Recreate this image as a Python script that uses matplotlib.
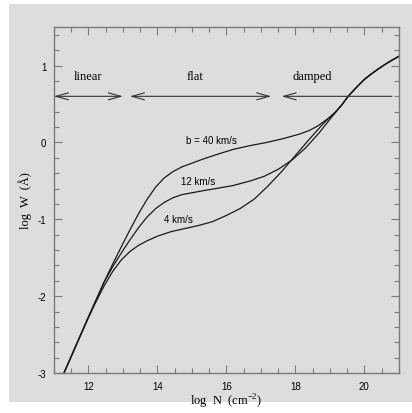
import numpy as np
import matplotlib
matplotlib.use("Agg")
import matplotlib.pyplot as plt
from matplotlib.patches import Rectangle
from matplotlib.ticker import MultipleLocator

plt.rcParams['axes.unicode_minus'] = False
plt.rcParams['mathtext.fontset'] = 'custom'
plt.rcParams['mathtext.rm'] = 'Liberation Serif'

# curve of growth
logN_40 = [11.29, 11.97, 12.45, 12.7, 12.95, 13.2, 13.45, 13.7, 13.95, 14.2, 14.45, 14.7,
           15.0, 15.3, 15.7, 16.2, 16.7, 17.17, 17.65, 18.13, 18.4, 18.65, 18.9, 19.15,
           19.35, 19.53, 19.8, 20.0, 20.2, 20.4, 20.6, 20.8, 21.0]
logW_40 = [-3.0, -2.30, -1.82, -1.585, -1.36, -1.14, -0.93, -0.74, -0.58, -0.46, -0.38, -0.32,
           -0.27, -0.22, -0.16, -0.09, -0.04, 0.0, 0.05, 0.11, 0.155, 0.215, 0.295, 0.385,
           0.49, 0.60, 0.73, 0.82, 0.89, 0.955, 1.015, 1.07, 1.12]

logN_12 = [11.29, 11.97, 12.45, 12.7, 12.95, 13.2, 13.45, 13.7, 13.95, 14.2, 14.45, 14.7,
           15.0, 15.3, 15.7, 16.2, 16.7, 17.1, 17.5, 17.9, 18.3, 18.7, 19.0, 19.2,
           19.35, 19.53, 19.8, 20.0, 20.2, 20.4, 20.6, 20.8, 21.0]
logW_12 = [-3.0, -2.30, -1.82, -1.62, -1.44, -1.27, -1.11, -0.97, -0.86, -0.78, -0.72, -0.68,
           -0.655, -0.63, -0.60, -0.56, -0.50, -0.44, -0.35, -0.23, -0.07, 0.13, 0.30, 0.41,
           0.49, 0.60, 0.73, 0.82, 0.89, 0.955, 1.015, 1.07, 1.12]

logN_4 = [11.29, 11.97, 12.2, 12.45, 12.7, 12.95, 13.2, 13.45, 13.7, 14.0, 14.4, 14.8,
          15.2, 15.6, 16.0, 16.4, 16.8, 17.2, 17.6, 18.0, 18.4, 18.8, 19.2,
          19.35, 19.53, 19.8, 20.0, 20.2, 20.4, 20.6, 20.8, 21.0]
logW_4 = [-3.0, -2.31, -2.09, -1.87, -1.68, -1.53, -1.42, -1.34, -1.28, -1.22, -1.16, -1.12,
          -1.08, -1.03, -0.95, -0.86, -0.74, -0.57, -0.38, -0.17, 0.04, 0.24, 0.415,
          0.49, 0.60, 0.73, 0.82, 0.89, 0.955, 1.015, 1.07, 1.12]

curve_labels = ["b = 40 km/s", "12 km/s", "4 km/s"]
label_pos = [(15.57, 0.03), (15.17, -0.50), (14.62, -0.99)]

regimes = ["linear", "flat", "damped"]
regime_x = [12.0, 15.1, 18.5]
regime_span = [(11.0, 13.0), (13.2, 17.3), (17.6, 20.8)]
arrow_y = 0.6

fig = plt.figure(figsize=(4.12, 4.14), dpi=100)
fig.patches.append(Rectangle((0.022, 0.027), 0.978, 0.961, transform=fig.transFigure,
                             facecolor='#dddddd', edgecolor='none', zorder=-10))
ax = fig.add_axes([0.131, 0.0966, 0.837, 0.8354])
ax.set_facecolor('none')

for n, w in [(logN_40, logW_40), (logN_12, logW_12), (logN_4, logW_4)]:
    ax.plot(n, w, color='#1a1a1a', lw=0.9, solid_joinstyle='round')

for txt, (x, y) in zip(curve_labels, label_pos):
    ax.text(x, y, txt, ha='center', va='center', fontsize=7, family='Liberation Sans')

for i, (a, b) in enumerate(regime_span):
    style = '<-' if i == 2 else '<->'
    ax.annotate('', xy=(b, arrow_y), xytext=(a, arrow_y),
                arrowprops=dict(arrowstyle=style + ',head_length=0.5,head_width=0.14',
                                mutation_scale=18, color='#333333', lw=0.8,
                                shrinkA=0, shrinkB=0))
    ax.text(regime_x[i], 0.86, regimes[i], ha='center', va='center',
            fontsize=9, family='Liberation Serif')

ax.set_xlim(11, 21)
ax.set_ylim(-3, 1.5)
ax.xaxis.set_major_locator(MultipleLocator(2))
ax.xaxis.set_minor_locator(MultipleLocator(0.5))
ax.yaxis.set_major_locator(MultipleLocator(1))
ax.yaxis.set_minor_locator(MultipleLocator(0.2))

spine_c = '#7a7a7a'
for s in ax.spines.values():
    s.set_color(spine_c)
    s.set_linewidth(1.0)
ax.tick_params(which='both', direction='in', top=True, right=True, color=spine_c,
               labelsize=7, width=0.8)
ax.tick_params(which='major', length=6)
ax.tick_params(which='minor', length=3.5)
ax.tick_params(axis='x', pad=6)
ax.tick_params(axis='y', pad=5.5)
for lab in ax.get_xticklabels() + ax.get_yticklabels():
    lab.set_family('Liberation Sans')

ax.set_xlabel(r'log  N  (cm$^{-2}$)', fontsize=9, family='Liberation Serif')
ax.set_ylabel('log  W  (Å)', fontsize=9, family='Liberation Serif')
ax.xaxis.set_label_coords(0.5, -0.054)
ax.yaxis.set_label_coords(-0.064, 0.5)

fig.savefig('out.png', dpi=100)
